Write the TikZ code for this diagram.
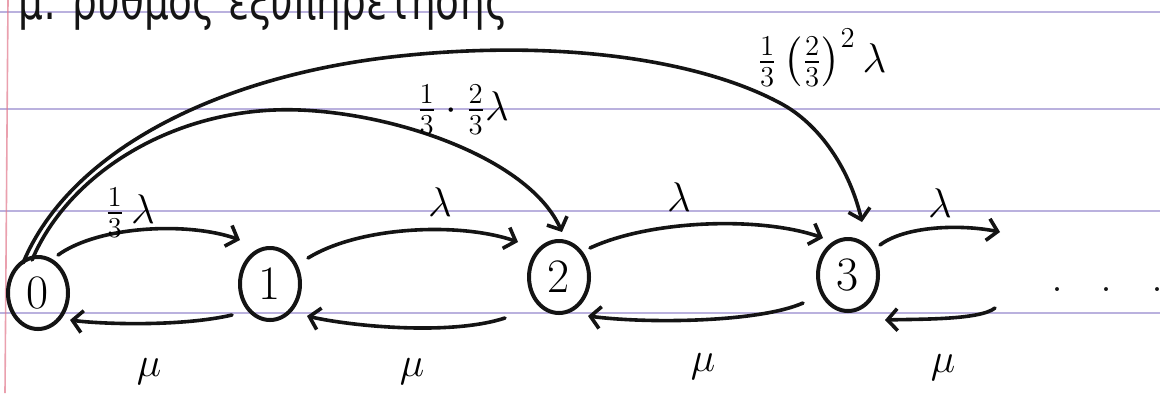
\documentclass[tikz,border=0pt]{standalone}
\usepackage{amsmath}
\usepackage{fontspec}
\newfontfamily\grfont[FakeStretch=0.75]{DejaVu Sans}
\usetikzlibrary{arrows.meta,shapes.geometric,calc}
\definecolor{ink}{RGB}{20,20,20}
\definecolor{ruleline}{RGB}{140,125,200}
\definecolor{margin}{RGB}{225,120,140}
\begin{document}
\begin{tikzpicture}[x=0.5pt,y=-0.5pt,
  state/.style={ellipse,draw=ink,line width=2pt,minimum width=30pt,minimum height=36pt,inner sep=0pt,font=\fontsize{24}{24}\selectfont},
  arr/.style={draw=ink,line width=1.8pt,line cap=round,-{Straight Barb[length=5pt,width=11pt]}},
  fraclab/.style={font=\fontsize{20}{22}\selectfont,inner sep=0pt},
  lamlab/.style={font=\fontsize{20}{22}\selectfont,inner sep=0pt},
  mulab/.style={font=\fontsize{22}{24}\selectfont,inner sep=0pt},
  ruled/.style={draw=ruleline,line width=1pt,opacity=0.6}]
\useasboundingbox (0,0) rectangle (1160,393);
\clip (0,0) rectangle (1160,393);
% notebook ruling
\draw[ruled] (0,12) -- (1160,12);
\draw[ruled] (0,109) -- (1160,109);
\draw[ruled] (0,211) -- (1160,211);
\draw[ruled] (0,313) -- (1160,313);
\draw[draw=margin,line width=0.8pt,opacity=0.7] (8,0) -- (5,393);
% title (cut off at top, as in the reference)
\node[anchor=base west,inner sep=0pt,text=ink,font=\grfont\fontsize{26}{26}\selectfont] (title) at (18,19) {μ: ρυθμός εξυπηρέτησης};
% states
\node[state] (n0) at (38,293) {0};
\node[state] (n1) at (270,284) {1};
\node[state] (n2) at (559,277) {2};
\node[state] (n3) at (848,275) {3};
\coordinate (outR) at (1000,232);
\coordinate (inR) at (995,308);
% forward lambda arrows
\draw[arr] ($(n0)+(20,-38)$) .. controls (100,225) and (190,222) .. ($(n1)+(-30,-44)$);
\draw[arr] ($(n1)+(38,-26)$) .. controls (360,226) and (460,222) .. ($(n2)+(-41,-35)$);
\draw[arr] ($(n2)+(31,-29)$) .. controls (650,220) and (760,216) .. ($(n3)+(-25,-37)$);
\draw[arr] ($(n3)+(32,-30)$) .. controls (905,226) and (960,224) .. (outR);
% backward mu arrows
\draw[arr] ($(n1)+(-38,31)$) .. controls (180,327) and (100,324) .. ($(n0)+(32,27)$);
\draw[arr] ($(n2)+(-54,41)$) .. controls (450,336) and (350,326) .. ($(n1)+(37,32)$);
\draw[arr] ($(n3)+(-45,28)$) .. controls (760,322) and (650,324) .. ($(n2)+(29,39)$);
\draw[arr] (inR) .. controls (980,320) and (920,319) .. ($(n3)+(37,45)$);
% long arcs
\draw[arr] ($(n0)+(-6,-33)$) .. controls (70,170) and (180,105) .. (300,110)
   .. controls (400,114) and (530,160) .. ($(n2)+(3,-45)$);
\draw[arr] ($(n0)+(-15,-30)$) .. controls (70,150) and (220,75) .. (400,56)
   .. controls (560,39) and (700,60) .. (780,103)
   .. controls (820,124) and (850,170) .. ($(n3)+(14,-53)$);
% labels
\node[fraclab] (l01) at (130,213) {$\tfrac{1}{3}\,\lambda$};
\node[lamlab] (l12) at (440,202) {$\lambda$};
\node[lamlab] (l23) at (679,197) {$\lambda$};
\node[lamlab] (l3r) at (940,203) {$\lambda$};
\node[fraclab] (l02) at (463,110) {$\tfrac{1}{3}\cdot\tfrac{2}{3}\lambda$};
\node[fraclab] (l03) at (822,58) {$\tfrac{1}{3}\left(\tfrac{2}{3}\right)^{2}\lambda$};
\node[mulab] (m10) at (149,372) {$\mu$};
\node[mulab] (m21) at (412,372) {$\mu$};
\node[mulab] (m32) at (703,367) {$\mu$};
\node[mulab] (m3r) at (943,368) {$\mu$};
\node[inner sep=0pt,text=ink,font=\fontsize{24}{24}\selectfont] (dots) at (1107,290) {.\hspace{19pt}.\hspace{19pt}.};
\end{tikzpicture}
\end{document}
